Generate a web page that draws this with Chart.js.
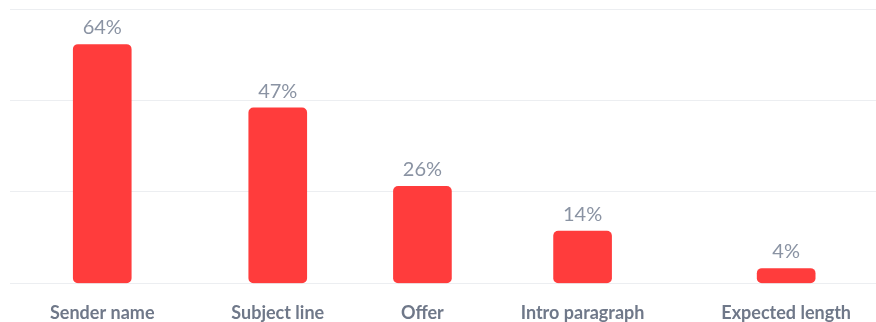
<!DOCTYPE html>
<html>
<head>
<meta charset="utf-8">
<script src="https://cdn.jsdelivr.net/npm/chart.js@4"></script>
<style>
  html, body { margin: 0; padding: 0; background: #fff; }
  #wrap { width: 876px; height: 322px; position: relative; }
</style>
</head>
<body>
<div id="wrap"><canvas id="chart"></canvas></div>
<script>
const categories = ["Sender name", "Subject line", "Offer", "Intro paragraph", "Expected length"];
const shares = [64, 47, 26, 14, 4];

const barColor = "#ff3c3c";
const gridColor = "#eceef1";
const tickFont = { family: "Lato", size: 18, weight: "bold" };
const valueFont = "20px Lato";

// labels sit edge to edge with equal gaps between them, so the bar centres
// follow the text widths rather than an even category grid
const spanStart = 40;   // from chart-area left to first label
const spanWidth = 801;  // first label left edge to last label right edge
const spanEnd = 25;     // last label to chart-area right

const measure = document.createElement("canvas").getContext("2d");
measure.font = `${tickFont.weight} ${tickFont.size}px ${tickFont.family}`;
const widths = categories.map(c => measure.measureText(c).width);
const gap = (spanWidth - widths.reduce((a, b) => a + b, 0)) / (categories.length - 1);
const centres = [];
let cursor = 0;
widths.forEach(w => {
    centres.push(cursor + w / 2);
    cursor += w + gap;
});

// value text above each bar
const valueLabels = {
    id: "valueLabels",
    afterDatasetsDraw(chart) {
        const ctx = chart.ctx;
        const meta = chart.getDatasetMeta(0);
        ctx.save();
        ctx.font = valueFont;
        ctx.fillStyle = "#8a93a3";
        ctx.textAlign = "center";
        ctx.textBaseline = "alphabetic";
        meta.data.forEach((bar, i) => {
            ctx.fillText(shares[i] + "%", bar.x, bar.y - 10);
        });
        ctx.restore();
    }
};

new Chart(document.getElementById("chart"), {
    type: "bar",
    data: {
        datasets: [{
            data: shares.map((v, i) => ({ x: centres[i], y: v })),
            backgroundColor: barColor,
            borderRadius: 5,
            borderSkipped: false,
            barThickness: 58
        }]
    },
    options: {
        responsive: true,
        maintainAspectRatio: false,
        animation: false,
        layout: { padding: { top: 9, left: 10, right: 0, bottom: -21 } },
        plugins: { legend: { display: false }, tooltip: { enabled: false } },
        scales: {
            x: {
                type: "linear",
                offset: false,
                min: -spanStart,
                max: spanWidth + spanEnd,
                grid: { display: false, drawTicks: false },
                border: { display: false },
                afterBuildTicks: (scale) => {
                    scale.ticks = centres.map(v => ({ value: v }));
                },
                ticks: {
                    autoSkip: false,
                    maxRotation: 0,
                    padding: 19,
                    color: "#6f7889",
                    font: tickFont,
                    callback: (v, i) => categories[i]
                }
            },
            y: {
                min: 0,
                max: 73.5,
                grid: { color: gridColor, lineWidth: 1, drawTicks: false },
                border: { display: false },
                ticks: { display: false, count: 4 }
            }
        }
    },
    plugins: [valueLabels]
});
</script>
</body>
</html>
